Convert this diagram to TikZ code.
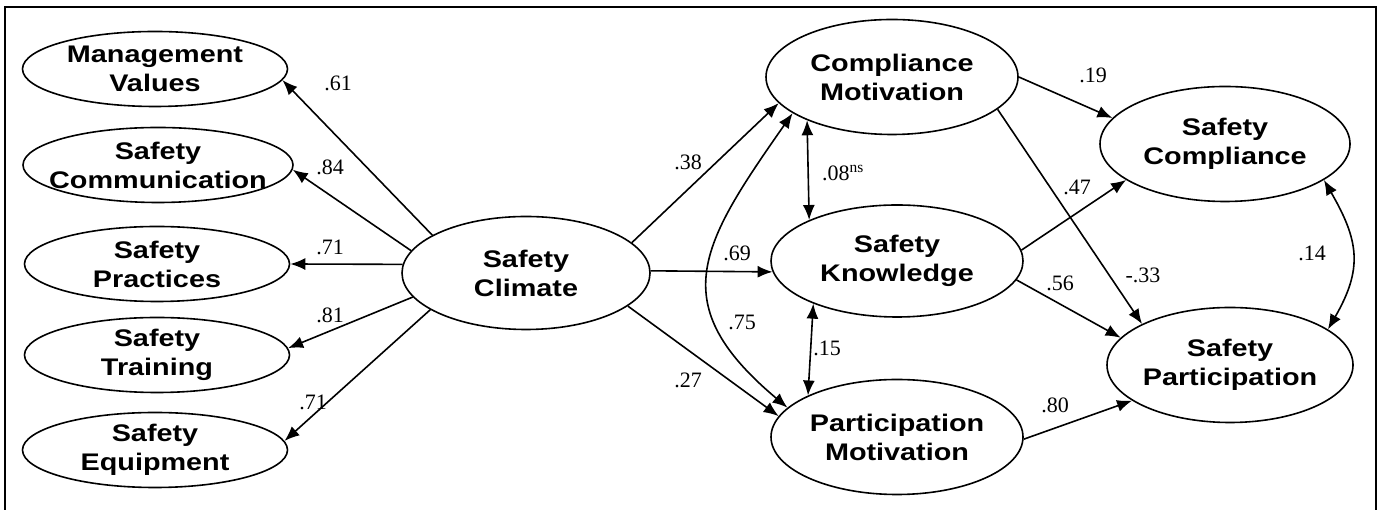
\documentclass[tikz,border=0pt]{standalone}
\usepackage{fontspec}
\setmainfont{Liberation Serif}
\newfontfamily\nodefont[FakeStretch=1.2]{Liberation Sans}
\usetikzlibrary{shapes.geometric,arrows.meta}
\newcommand{\coefsize}{\fontsize{22}{24}\selectfont}

\begin{document}
\begin{tikzpicture}[x=1pt,y=1pt,>={Latex[length=15pt,width=12pt]},
    lat/.style={draw, ellipse, line width=1.6pt, minimum width=252, minimum height=115, inner sep=0pt,
      label={[font=\nodefont\bfseries\fontsize{24}{29}\selectfont, align=center]center:#1}},
    obs/.style={lat=#1, minimum width=265, minimum height=75},
    eff/.style={->, line width=1.6pt},
    cov/.style={<->, line width=1.6pt},
    wt/.style={font=\coefsize, inner sep=1pt}]
    \useasboundingbox (0,0) rectangle (1383,510);
    \draw[line width=2.5pt] (5,-10) rectangle (1376,503);
    \node[lat={Safety\\Climate}, minimum width=248, minimum height=113] (SC) at (526,237) {};
    \node[obs={Management\\Values}] (MV) at (155,441) {};
    \node[obs={Safety\\Communication}, minimum width=270] (SCom) at (158,345) {};
    \node[obs={Safety\\Practices}] (SPr) at (157,246) {};
    \node[obs={Safety\\Training}] (STr) at (157,155) {};
    \node[obs={Safety\\Equipment}] (SEq) at (155,60) {};
    \node[lat={Compliance\\Motivation}] (CM) at (892,433) {};
    \node[lat={Safety\\Knowledge}, minimum height=112] (SK) at (897,249) {};
    \node[lat={Participation\\Motivation}] (PM) at (897,73) {};
    \node[lat={Safety\\Compliance}, minimum width=250] (SCo) at (1225,366) {};
    \node[lat={Safety\\Participation}, minimum width=246] (SPa) at (1230,145) {};
    \draw[eff] (SC.158) -- (MV.-5);
    \draw[eff] (SC.169) -- (SCom.-2);
    \draw[eff] (SC.176) -- (SPr.0);
    \draw[eff] (SC.192) -- (STr.3);
    \draw[eff] (SC.201) -- (SEq.4);
    \draw[eff] (SC.16) -- (CM.193);
    \draw[eff] (SC.1) -- (SK.185);
    \draw[eff] (SC.-18) -- (PM.170);
    \draw[cov] (CM.200) to[out=235, in=140, looseness=1.4] (PM.165);
    \draw[cov] (CM.207) -- (SK.155);
    \draw[cov] (SK.207) -- (PM.155);
    \draw[eff] (CM.0) -- (SCo.167);
    \draw[eff] (SK.5) -- (SCo.200);
    \draw[eff] (CM.-17) -- (SPa.155);
    \draw[eff] (SK.-9) -- (SPa.166);
    \draw[eff] (PM.-1) -- (SPa.200);
    \draw[cov] (SCo.-20) to[out=-60, in=60, looseness=1.2] (SPa.20);
    \node[wt] (w61) at (338,427) {.61};
    \node[wt] (w84) at (330,343) {.84};
    \node[wt] (w71a) at (330,263) {.71};
    \node[wt] (w81) at (330,195) {.81};
    \node[wt] (w71b) at (313,108) {.71};
    \node[wt] (w38) at (688,348) {.38};
    \node[wt] (w69) at (737,257) {.69};
    \node[wt] (w27) at (688,130) {.27};
    \node[wt] (w75) at (742,188) {.75};
    \node[wt] (w08) at (843,337) {.08\textsuperscript{ns}};
    \node[wt] (w15) at (827,162) {.15};
    \node[wt] (w19) at (1093,435) {.19};
    \node[wt] (w47) at (1077,323) {.47};
    \node[wt] (w33) at (1143,235) {-.33};
    \node[wt] (w56) at (1060,227) {.56};
    \node[wt] (w80) at (1055,105) {.80};
    \node[wt] (w14) at (1312,257) {.14};
\end{tikzpicture}
\end{document}
